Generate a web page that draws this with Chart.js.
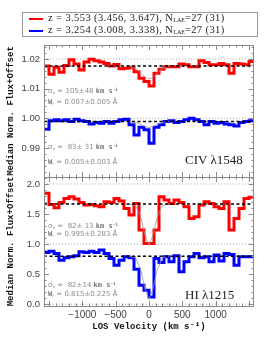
<!DOCTYPE html>
<html><head><meta charset="utf-8">
<script src="https://cdn.jsdelivr.net/npm/chart.js@4"></script>
<style>
body{margin:0;background:#fff;}
#wrap{position:relative;width:264px;height:339px;overflow:hidden;background:#fff;}
canvas{position:absolute;left:0;top:0;}
.lg{position:absolute;left:22px;top:12px;width:236px;height:25px;border:1px solid #999;box-sizing:border-box;font-family:"Liberation Serif",serif;font-size:10.5px;letter-spacing:0.4px;color:#222;}
.row{position:absolute;left:25px;white-space:nowrap;line-height:1;}
.sw{position:absolute;left:6px;width:14px;height:1.5px;}
.row sub{font-size:6px;letter-spacing:0;vertical-align:-1px;}
.an{position:absolute;left:48px;font-family:"DejaVu Sans",sans-serif;font-size:7px;color:#8c8c8c;white-space:nowrap;line-height:1;}
.an b{font-family:"DejaVu Sans Mono",monospace;color:#777;}
.an sub{font-size:4.5px;vertical-align:-1px;}
.an sup{font-size:4.5px;vertical-align:2px;}
.ion{position:absolute;left:185px;font-family:"Liberation Serif",serif;font-size:13px;color:#222;white-space:nowrap;line-height:1;}
</style></head>
<body>
<div id="wrap">
<canvas id="c" width="264" height="339"></canvas>
<div class="lg">
  <div class="sw" style="top:5px;background:#ff0000"></div>
  <div class="row" style="top:0px">z = 3.553 (3.456, 3.647), N<sub>LAE</sub>=27 (31)</div>
  <div class="sw" style="top:17px;background:#0000ff"></div>
  <div class="row" style="top:12px">z = 3.254 (3.008, 3.338), N<sub>LAE</sub>=27 (31)</div>
</div>
<div class="an" style="top:87.5px">σ<sub>v</sub> = 105±48 <b>km s<sup>-1</sup></b></div>
<div class="an" style="top:99px"><b>W</b><sub>r</sub> = 0.007±0.005 Å</div>
<div class="an" style="top:144px">σ<sub>v</sub> =&nbsp; 83± 31 <b>km s<sup>-1</sup></b></div>
<div class="an" style="top:158.5px"><b>W</b><sub>r</sub> = 0.005±0.003 Å</div>
<div class="an" style="top:222.5px">σ<sub>v</sub> =&nbsp; 82± 13 <b>km s<sup>-1</sup></b></div>
<div class="an" style="top:230.5px"><b>W</b><sub>r</sub> = 0.995±0.283 Å</div>
<div class="an" style="top:281.5px">σ<sub>v</sub> =&nbsp; 82±14 <b>km s<sup>-1</sup></b></div>
<div class="an" style="top:291px"><b>W</b><sub>r</sub> = 0.815±0.225 Å</div>
<div class="ion" style="top:153px">CIV λ1548</div>
<div class="ion" style="top:288px">HI λ1215</div>
</div>
<script>
// ---- data ----
const velocity = [-1537.5,-1462.5,-1387.5,-1312.5,-1237.5,-1162.5,-1087.5,-1012.5,-937.5,-862.5,-787.5,-712.5,-637.5,-562.5,-487.5,-412.5,-337.5,-262.5,-187.5,-112.5,-37.5,37.5,112.5,187.5,262.5,337.5,412.5,487.5,562.5,637.5,712.5,787.5,862.5,937.5,1012.5,1087.5,1162.5,1237.5,1312.5,1387.5,1462.5,1537.5];
const civRed  = [1.0176,1.0148,1.0172,1.0155,1.0178,1.0197,1.0183,1.0163,1.0190,1.0199,1.0194,1.0190,1.0185,1.0176,1.0181,1.0167,1.0169,1.0172,1.0157,1.0135,1.0124,1.0109,1.0152,1.0165,1.0174,1.0174,1.0174,1.0183,1.0180,1.0174,1.0174,1.0194,1.0188,1.0180,1.0180,1.0185,1.0180,1.0152,1.0185,1.0183,1.0180,1.0191];
const civBlue = [0.9963,0.9992,0.9995,0.9992,0.9995,0.9989,0.9997,0.9992,0.9989,0.9981,0.9986,0.9983,0.9989,0.9983,0.9989,0.9995,0.9997,0.9978,0.9944,0.9970,0.9961,0.9916,0.9970,0.9978,0.9989,0.9992,0.9986,0.9989,0.9995,1.0000,0.9995,0.9989,0.9978,0.9989,0.9983,0.9986,0.9981,0.9978,0.9974,0.9986,0.9989,0.9992];
const hiRed   = [1.845,1.661,1.606,1.694,1.761,1.789,1.750,1.694,1.650,1.661,1.639,1.622,1.706,1.694,1.761,1.717,1.594,1.483,1.678,1.233,1.011,1.011,1.233,1.789,1.733,1.678,1.733,1.694,1.622,1.428,1.456,1.650,1.706,1.678,1.622,1.594,1.706,1.233,1.428,1.594,1.761,1.778];
const hiBlue  = [0.861,0.883,0.844,0.733,0.772,0.789,0.806,0.872,0.861,0.883,0.861,0.900,0.844,0.761,0.650,0.733,0.789,0.772,0.583,0.317,0.233,0.120,0.761,0.694,0.789,0.706,0.806,0.539,0.706,0.789,0.844,0.772,0.789,0.706,0.817,0.717,0.844,0.828,0.650,0.789,0.789,0.789];
// gaussian fits
const fitVel = [-300,-200,-120,-60,0,60,120,200,300];
const civRedFit  = [1.0176,1.0168,1.0152,1.0138,1.0132,1.0138,1.0152,1.0168,1.0176];
const civBlueFit = [0.9989,0.9986,0.9979,0.9972,0.9969,0.9972,0.9979,0.9986,0.9989];
const hiRedFit   = [1.667,1.640,1.440,1.150,0.980,1.150,1.440,1.640,1.667];
const hiBlueFit  = [0.800,0.770,0.560,0.250,0.080,0.250,0.560,0.770,0.800];
// continuum (dashed) and offset reference (dotted) levels
const civContinuum = [1.0176, 0.9989];
const hiContinuum  = [1.667, 0.800];
const civOffsets = [1.02, 1.00];
const hiOffsets  = [2.0, 1.0, 0.0];
// axes
const xRange = [-1575, 1575];
const xTicks = [-1000, -500, 0, 500, 1000];
const civRange = [0.9802, 1.0247];
const civTicks = [0.99, 1.00, 1.01, 1.02];
const civTickLabels = ['0.99', '1.00', '1.01', '1.02'];
const hiRange = [-0.03, 2.117];
const hiTicks = [0.0, 0.5, 1.0, 1.5, 2.0];
const hiTickLabels = ['0.0', '0.5', '1.0', '1.5', '2.0'];

// ---- build datasets ----
const bw = velocity[1] - velocity[0];
function steps(vals){const p=[];vals.forEach((v,i)=>{p.push({x:velocity[i]-bw/2,y:v});p.push({x:velocity[i]+bw/2,y:v});});return p;}
function hline(y){return [{x:xRange[0],y:y},{x:xRange[1],y:y}];}
function fit(vals){return vals.map((v,i)=>({x:fitVel[i],y:v}));}
const ds = [];
civOffsets.forEach(y=>ds.push({data:hline(y),yAxisID:'yTop',borderColor:'#aaa',borderWidth:1,borderDash:[1,2],order:3}));
hiOffsets.forEach(y=>ds.push({data:hline(y),yAxisID:'yBot',borderColor:'#aaa',borderWidth:1,borderDash:[1,2],order:3}));
const stepStyle={borderWidth:3,borderJoinStyle:'miter',borderCapStyle:'butt',order:2};
ds.push(Object.assign({data:steps(civRed),yAxisID:'yTop',borderColor:'#ff0000'},stepStyle));
ds.push(Object.assign({data:steps(civBlue),yAxisID:'yTop',borderColor:'#0000ff'},stepStyle));
ds.push(Object.assign({data:steps(hiRed),yAxisID:'yBot',borderColor:'#ff0000'},stepStyle));
ds.push(Object.assign({data:steps(hiBlue),yAxisID:'yBot',borderColor:'#0000ff'},stepStyle));
ds.push({data:fit(civRedFit),yAxisID:'yTop',borderColor:'#999',borderWidth:0.8,order:1});
ds.push({data:fit(civBlueFit),yAxisID:'yTop',borderColor:'#999',borderWidth:0.8,order:1});
ds.push({data:fit(hiRedFit),yAxisID:'yBot',borderColor:'#999',borderWidth:0.8,order:1});
ds.push({data:fit(hiBlueFit),yAxisID:'yBot',borderColor:'#999',borderWidth:0.8,order:1});
civContinuum.forEach(y=>ds.push({data:hline(y),yAxisID:'yTop',borderColor:'#000',borderWidth:1.5,borderDash:[3,2.5],order:0}));
hiContinuum.forEach(y=>ds.push({data:hline(y),yAxisID:'yBot',borderColor:'#000',borderWidth:1.5,borderDash:[3,2.5],order:0}));
ds.forEach(d=>{d.pointRadius=0;d.tension=0;d.fill=false;});

const frame = {
  id:'frame',
  afterDatasetsDraw(chart){
    const ctx=chart.ctx, xs=chart.scales.x;
    ctx.save();
    ctx.strokeStyle='#8a8a8a';ctx.lineWidth=1;
    const panels=[['yTop',0.002,0.01],['yBot',0.1,0.5]];
    const l=xs.left,r=xs.right;
    panels.forEach(([id,minor,major])=>{
      const s=chart.scales[id];
      const t=s.top,b=s.bottom;
      ctx.strokeRect(Math.round(l)+0.5,Math.round(t)+0.5,Math.round(r-l)-1,Math.round(b-t));
      ctx.beginPath();
      const n0=Math.ceil(s.min/minor-1e-6), n1=Math.floor(s.max/minor+1e-6);
      for(let n=n0;n<=n1;n++){
        const v=n*minor, py=Math.round(s.getPixelForValue(v))+0.5;
        const isMaj=Math.abs(v/major-Math.round(v/major))<1e-6;
        const len=isMaj?5:2.5;
        ctx.moveTo(l,py);ctx.lineTo(l+len,py);
        ctx.moveTo(r,py);ctx.lineTo(r-len,py);
      }
      const m0=Math.ceil(xs.min/100-1e-6), m1=Math.floor(xs.max/100+1e-6);
      for(let m=m0;m<=m1;m++){
        const v=m*100, px=Math.round(xs.getPixelForValue(v))+0.5;
        const len=(m%5===0)?5:2.5;
        ctx.moveTo(px,t);ctx.lineTo(px,t+len);
        ctx.moveTo(px,b);ctx.lineTo(px,b-len);
      }
      ctx.stroke();
    });
    ctx.restore();
  }
};

const titleFont={family:'"Liberation Mono", monospace',size:9,weight:'bold'};
const tickFont={family:'"Liberation Sans", Arial, sans-serif',size:9.5};
function yScale(range,ticks,labels,weight){
  return {
    type:'linear',position:'left',stack:'panels',stackWeight:weight,
    min:range[0],max:range[1],
    grid:{display:false,drawTicks:false},border:{display:false},
    afterBuildTicks:(s)=>{s.ticks=ticks.map(v=>({value:v}));},
    afterFit:(s)=>{s.width=44;},
    ticks:{font:tickFont,color:'#444',padding:4,callback:(v)=>{const i=ticks.findIndex(t=>Math.abs(t-v)<1e-9);return i>=0?labels[i]:'';}},
    title:{display:true,text:'Median Norm. Flux+Offset',font:titleFont,color:'#111',padding:{top:5,bottom:0}}
  };
}
new Chart(document.getElementById('c'),{
  type:'line',
  data:{datasets:ds},
  options:{
    responsive:false,animation:false,devicePixelRatio:1,
    parsing:true,
    layout:{padding:{top:45,right:10,left:0,bottom:0}},
    plugins:{legend:{display:false},tooltip:{enabled:false}},
    scales:{
      x:{type:'linear',min:xRange[0],max:xRange[1],
        grid:{display:false,drawTicks:false},border:{display:false},
        afterBuildTicks:(s)=>{s.ticks=xTicks.map(v=>({value:v}));},
        afterFit:(s)=>{s.height=33;},
        ticks:{font:{family:'"Liberation Sans", Arial, sans-serif',size:10},color:'#444',padding:3,maxRotation:0,
          callback:(v)=>(v<0?'\u2212'+Math.abs(v):String(v))},
        title:{display:true,text:'LOS Velocity (km s\u207B\u00B9)',font:titleFont,color:'#111',padding:{top:0,bottom:7}}
      },
      yBot:yScale(hiRange,hiTicks,hiTickLabels,129),
      yTop:yScale(civRange,civTicks,civTickLabels,132)
    }
  },
  plugins:[frame]
});
</script>
</body></html>
